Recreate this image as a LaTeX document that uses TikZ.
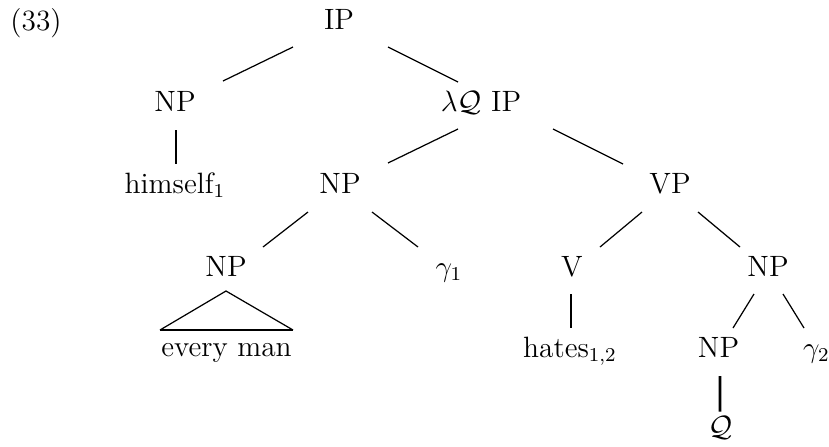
\documentclass[tikz,border=0pt]{standalone}
\begin{document}
\begin{tikzpicture}[x=0.40816pt,y=-0.40816pt,
  lab/.style={anchor=base,inner sep=0pt,font=\fontsize{12}{14.4}\selectfont},
  br/.style={line width=0.5pt},
  trunk/.style={line width=1.1pt}]
\useasboundingbox (0,0) rectangle (829,446);
% labels
\node[lab] (ex)    at (36,30)      {(33)};
\node[lab] (IP)    at (339,29.5)   {IP};
\node[lab] (NP1)   at (175,111.7)  {NP};
\node[lab] (LQIP)  at (481,111.7)  {$\lambda\mathcal{Q}$ IP};
\node[lab] (HIM)   at (175,193)    {himself$_1$};
\node[lab] (NP2)   at (340,193)    {NP};
\node[lab] (VP)    at (670,193)    {VP};
\node[lab] (NP3)   at (226,276)    {NP};
\node[lab] (G1)    at (449,276.5)  {$\gamma_1$};
\node[lab] (V)     at (572,276)    {V};
\node[lab] (NP4)   at (768,276)    {NP};
\node[lab] (EM)    at (226.5,356.5){every man};
\node[lab] (HATES) at (570,357)    {hates$_{1,2}$};
\node[lab] (NP5)   at (718.5,357)  {NP};
\node[lab] (G2)    at (816.5,357)  {$\gamma_2$};
\node[lab] (Q)     at (720.5,436)  {$\mathcal{Q}$};
% branches
\draw[br] ([shift={(-46,17.5)}]IP.base) -- ([shift={(48,-30.7)}]NP1.base);
\draw[br] ([shift={(49,17.5)}]IP.base) -- ([shift={(-23,-29.7)}]LQIP.base);
\draw[trunk] ([shift={(1,18.3)}]NP1.base) -- ([shift={(1,-29)}]HIM.base);
\draw[br] ([shift={(-23,17.3)}]LQIP.base) -- ([shift={(48,-30)}]NP2.base);
\draw[br] ([shift={(72,17.3)}]LQIP.base) -- ([shift={(-47,-29)}]VP.base);
\draw[br] ([shift={(-32,19)}]NP2.base) -- ([shift={(37,-29)}]NP3.base);
\draw[br] ([shift={(32,19)}]NP2.base) -- ([shift={(-31,-29.5)}]G1.base);
\draw[br] ([shift={(-28,19)}]VP.base) -- ([shift={(28,-29)}]V.base);
\draw[br] ([shift={(28,19)}]VP.base) -- ([shift={(-28,-29)}]NP4.base);
\draw[trunk] ([shift={(-1,18)}]V.base) -- ([shift={(1,-29)}]HATES.base);
\draw[br] ([shift={(-14,18)}]NP4.base) -- ([shift={(14.5,-29)}]NP5.base);
\draw[br] ([shift={(15,18)}]NP4.base) -- ([shift={(-12.5,-29)}]G2.base);
\draw[trunk] ([shift={(1.5,19)}]NP5.base) -- ([shift={(-0.5,-24.3)}]Q.base);
% triangle over "every man"
\draw[br] ([shift={(-66.5,-26.5)}]EM.base) -- ([shift={(0,15)}]NP3.base) -- ([shift={(66.5,-26.5)}]EM.base);
\draw[trunk] ([shift={(-66.5,-26.5)}]EM.base) -- ([shift={(66.5,-26.5)}]EM.base);
\end{tikzpicture}
\end{document}
